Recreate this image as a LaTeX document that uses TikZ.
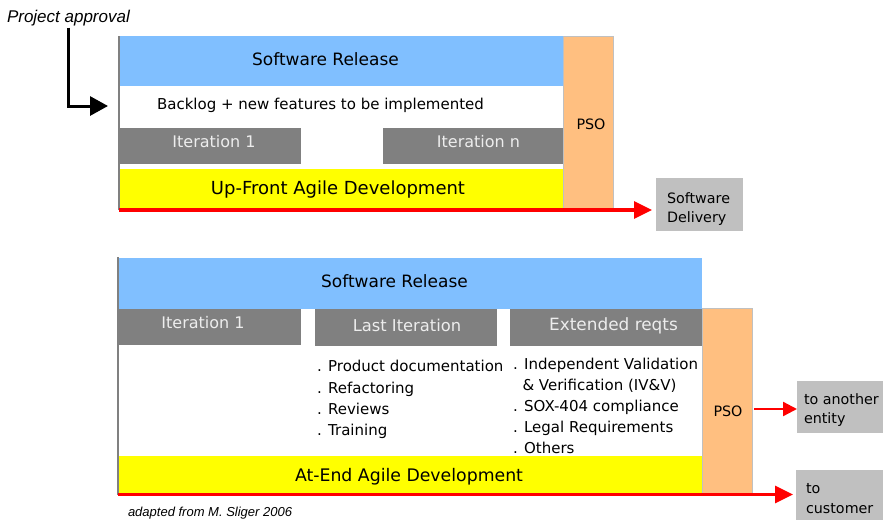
\documentclass[tikz,border=0pt]{standalone}
\usepackage{fontspec}
\setmainfont{DejaVu Sans}
\newfontfamily\arialf{Liberation Sans}
\usetikzlibrary{arrows.meta}
\definecolor{relblue}{HTML}{80BFFF}
\definecolor{psoorange}{HTML}{FFBF80}
\definecolor{itgray}{HTML}{808080}
\definecolor{boxgray}{HTML}{C0C0C0}
\definecolor{ittext}{HTML}{EDEDED}
\definecolor{agyellow}{HTML}{FFFF00}
\definecolor{arrred}{HTML}{FF0000}
\newcommand{\fs}[1]{\fontsize{#1}{#1}\selectfont}
\begin{document}
\begin{tikzpicture}[x=1pt,y=-1pt,
  box/.style={draw=none,inner sep=0pt,outer sep=0pt},
  lbl/.style={inner sep=0pt,outer sep=0pt},
  itlbl/.style={lbl,text=ittext,font=\fs{16}},
  psobox/.style={box,fill=psoorange,draw=boxgray,line width=0.8pt},
  outbox/.style={box,fill=boxgray},
  outlbl/.style={lbl,anchor=base west,font=\fs{14.3}},
  item/.style={lbl,anchor=base west,font=\fs{15}},
  frameline/.style={draw=itgray,line width=2pt},
  redarrow/.style={draw=arrred,line width=3.3pt,-{Triangle[length=18pt,width=17pt]}},
  redthin/.style={draw=arrred,line width=2.3pt,-{Triangle[length=14pt,width=14pt]}},
  blackarrow/.style={draw=black,line width=3pt,-{Triangle[length=18pt,width=19pt]}}]
\useasboundingbox (0,0) rectangle (883,520);

% ---------- top: up-front ----------
\node[box,fill=relblue,minimum width=444pt,minimum height=50pt] (rel1) at (341,61) {};
\node[lbl,font=\fs{17}] (rel1t) at (325.5,59.5) {Software Release};
\node[lbl,font=\fs{15}] (backlog) at (320.5,105) {Backlog + new features to be implemented};
\node[box,fill=itgray,minimum width=182pt,minimum height=36pt] (it1) at (210,146) {};
\node[itlbl] (it1t) at (214,142) {Iteration 1};
\node[box,fill=itgray,minimum width=180pt,minimum height=36pt] (itn) at (473,146) {};
\node[itlbl] (itnt) at (478.5,141.5) {Iteration n};
\node[box,fill=agyellow,minimum width=444pt,minimum height=39pt] (up) at (341,188.5) {};
\node[lbl,font=\fs{18}] (upt) at (338,189.5) {Up-Front Agile Development};
\node[psobox,minimum width=50pt,minimum height=172pt] (pso1) at (588,122) {};
\node[lbl,font=\fs{14.3}] (pso1t) at (591,124.5) {PSO};
\node[outbox,minimum width=87pt,minimum height=53pt] (sd) at (699.5,204.5) {};
\node[outlbl] (sdt1) at (667,203) {Software};
\node[outlbl] (sdt2) at (667,222) {Delivery};

\coordinate (r1s) at (119,210);
\draw[frameline] (rel1.north west) -- (r1s);
\draw[redarrow] (r1s) -- ([xshift=-4pt]sd.west |- r1s);

\node[lbl,anchor=base west,font=\arialf\itshape\fs{17}] (pa) at (7,22) {Project approval};
\coordinate (apptip) at (108,106);
\draw[blackarrow] ([yshift=-2pt]pa.south) |- (apptip);

% ---------- bottom: at-end ----------
\node[box,fill=relblue,minimum width=583pt,minimum height=51pt] (rel2) at (410.5,283.5) {};
\node[lbl,font=\fs{17}] (rel2t) at (394.5,281) {Software Release};
\node[box,fill=itgray,minimum width=182pt,minimum height=36pt] (it1b) at (210,327) {};
\node[itlbl] (it1bt) at (203,322.5) {Iteration 1};
\node[box,fill=itgray,minimum width=182pt,minimum height=37pt] (last) at (406,327.5) {};
\node[itlbl,font=\fs{16.3}] (lastt) at (407,325.5) {Last Iteration};
\node[box,fill=itgray,minimum width=192pt,minimum height=37pt] (ext) at (606,327.5) {};
\node[itlbl,font=\fs{16.9}] (extt) at (613.5,326) {Extended reqts};
\node[psobox,minimum width=50pt,minimum height=185pt] (pso2) at (727,400.5) {};
\node[lbl,font=\fs{14.3}] (pso2t) at (728,411) {PSO};
\node[box,fill=agyellow,minimum width=583pt,minimum height=37pt] (end) at (410.5,474.5) {};
\node[lbl,font=\fs{17.3}] (endt) at (409,477) {At-End Agile Development};

\foreach \t/\yy [count=\i] in {{. Product documentation}/371.5,{. Refactoring}/393,{. Reviews}/414,{. Training}/435}
  \node[item] (li\i) at (317,\yy) {\t};
\foreach \t/\yy [count=\i] in {{. Independent Validation}/369,{. SOX-404 compliance}/411,{. Legal Requirements}/432,{. Others}/453}
  \node[item] (ei\i) at (513,\yy) {\t};
\node[item] (eiv) at (522.5,390) {\& Verification (IV\&V)};

\node[outbox,minimum width=86pt,minimum height=52pt] (another) at (840,407) {};
\node[outlbl] (ant1) at (804,404) {to another};
\node[outlbl] (ant2) at (804,423) {entity};
\node[outbox,minimum width=87pt,minimum height=50pt] (cust) at (839.5,495) {};
\node[outlbl] (cut1) at (806,493) {to};
\node[outlbl] (cut2) at (806,513) {customer};

\coordinate (r2s) at (118,494.5);
\draw[frameline] ([xshift=-1pt,yshift=1pt]rel2.north west) -- (r2s);
\draw[redarrow] (r2s) -- ([xshift=-3pt]cust.west |- r2s);
\coordinate (p2o) at ([xshift=2pt,yshift=-8.5pt]pso2.east);
\draw[redthin] (p2o) -- (another.west |- p2o);

\node[lbl,anchor=base west,font=\arialf\itshape\fs{13}] (src) at (128,516.5) {adapted from M. Sliger 2006};
\end{tikzpicture}
\end{document}
